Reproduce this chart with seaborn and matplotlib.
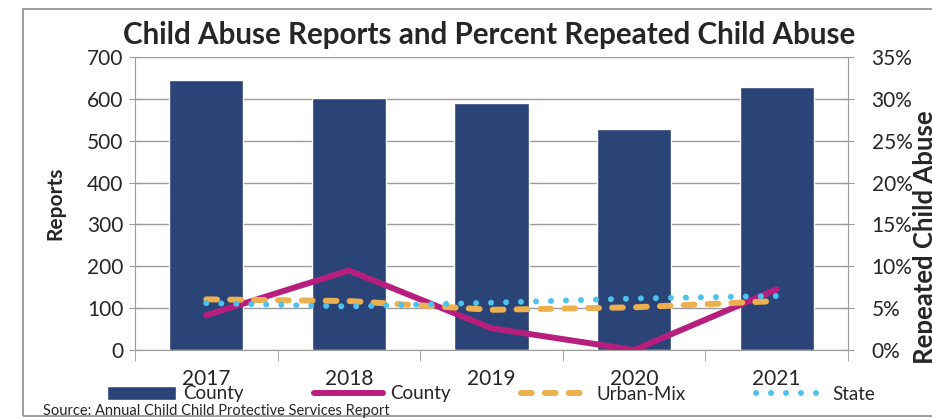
import numpy as np
import pandas as pd
import matplotlib.pyplot as plt
import seaborn as sns
from matplotlib.patches import Rectangle
from matplotlib.ticker import FuncFormatter

# data
years = ["2017", "2018", "2019", "2020", "2021"]
reports = [645, 603, 589, 528, 629]
county_pct = [4.15, 9.5, 2.6, 0.0, 7.25]
urban_pct = [6.05, 5.85, 4.8, 5.1, 5.85]
state_pct = [5.6, 5.2, 5.65, 6.15, 6.45]

navy = "#2B4477"
magenta = "#B71E7E"
orange = "#EDB04E"
skyblue = "#4BC3EE"
grid_gray = "#9B9B9B"

sns.set_style("white")
plt.rcParams["font.family"] = ["Lato", "DejaVu Sans"]

df = pd.DataFrame({"year": years, "reports": reports})
pos = np.arange(len(years))

fig = plt.figure(figsize=(9.32, 4.2), dpi=100)
ax = fig.add_axes([135 / 932, 1 - 350 / 420, 713 / 932, 293 / 420])

# bars - county reports
sns.barplot(data=df, x="year", y="reports", color=navy, width=0.52,
            saturation=1, ax=ax, label="County")
ax.set_ylim(0, 700)
ax.set_xlim(-0.5, len(years) - 0.5)
ax.set_yticks(range(0, 701, 100))
ax.yaxis.grid(True, color=grid_gray, lw=1)
ax.set_axisbelow(True)
for s in ["top", "right"]:
    ax.spines[s].set_visible(False)
for s in ["left", "bottom"]:
    ax.spines[s].set_color(grid_gray)
ax.tick_params(axis="y", direction="inout", length=9, color=grid_gray,
               labelsize=15, pad=4, left=True)
ax.set_xticks(pos)
ax.set_xticklabels(years)
ax.set_xticks(np.arange(-0.5, len(years), 1), minor=True)
ax.tick_params(axis="x", which="major", length=0, labelsize=15, pad=14)
ax.tick_params(axis="x", which="minor", length=8, color=grid_gray, bottom=True)
ax.set_xlabel("")
ax.set_ylabel("Reports", fontsize=15, fontweight="bold")
ax.yaxis.set_label_coords(-0.097, 0.5)

# percent lines
ax2 = ax.twinx()
sns.lineplot(x=pos, y=county_pct, ax=ax2, color=magenta, lw=4.3,
             label="County", solid_capstyle="round")
sns.lineplot(x=pos, y=urban_pct, ax=ax2, color=orange, lw=4.3,
             linestyle=(0, (1.8, 2.2)), dash_capstyle="round",
             label="Urban-Mix")
sns.lineplot(x=pos, y=state_pct, ax=ax2, color=skyblue, lw=4.3,
             linestyle=(0, (0.01, 2.5)), dash_capstyle="round",
             label="State")
ax2.set_ylim(0, 35)
ax2.set_yticks(range(0, 36, 5))
ax2.yaxis.set_major_formatter(FuncFormatter(lambda v, p: f"{v:.0f}%"))
ax2.tick_params(axis="y", direction="inout", length=9, color=grid_gray,
                labelsize=15, pad=12.5, right=True)
for s in ["top", "left", "bottom"]:
    ax2.spines[s].set_visible(False)
ax2.spines["right"].set_color(grid_gray)
ax2.set_ylabel("Repeated Child Abuse", fontsize=18.5, fontweight="bold")
ax2.yaxis.set_label_coords(1.091, 0.385)
ax2.get_legend().remove()

# legend along the bottom
h1, l1 = ax.get_legend_handles_labels()
h2, l2 = ax2.get_legend_handles_labels()
if ax.get_legend() is not None:
    ax.get_legend().remove()
fig.legend(h1 + h2, l1 + l2, ncol=4, loc="center left",
           bbox_to_anchor=(107 / 932, 1 - 394 / 420), frameon=False,
           fontsize=13.5, handlelength=3.7, handletextpad=0.35,
           columnspacing=3.75, borderaxespad=0, borderpad=0)

fig.text(489 / 932, 1 - 35 / 420,
         "Child Abuse Reports and Percent Repeated Child Abuse",
         ha="center", va="center", fontsize=21.3, fontweight="bold")
fig.text(43 / 932, 1 - 411 / 420,
         "Source: Annual Child Child Protective Services Report",
         ha="left", va="center", fontsize=10.5)

# outer chart border (runs off the right edge)
fig.patches.append(Rectangle((23 / 932, 4 / 420), 1.0, 407 / 420,
                             transform=fig.transFigure, fill=False,
                             edgecolor="#8C8C8C", lw=1.2))

fig.savefig("out.png", dpi=100)
